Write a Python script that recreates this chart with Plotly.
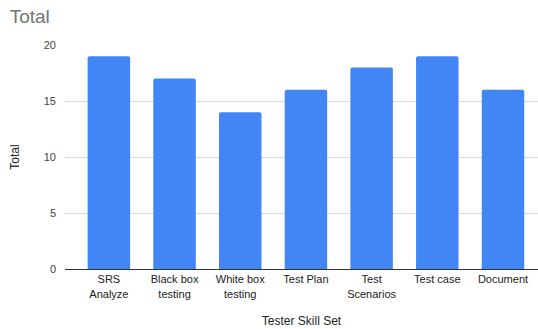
import plotly.graph_objects as go

skills = ["SRS<br>Analyze", "Black box<br>testing", "White box<br>testing", "Test Plan",
          "Test<br>Scenarios", "Test case", "Document"]
totals = [19, 17, 14, 16, 18, 19, 16]

fig = go.Figure(
    go.Bar(
        x=skills,
        y=totals,
        marker=dict(color="#4285F4", line=dict(width=0)),
        hoverinfo="x+y",
    )
)

fig.update_layout(
    width=538,
    height=329,
    paper_bgcolor="white",
    plot_bgcolor="white",
    font=dict(family="Arial, Liberation Sans, sans-serif", size=11, color="#444444"),
    title=dict(text="Total", x=0.018, y=0.95, xanchor="left", yanchor="middle",
               font=dict(size=19, color="#757575")),
    margin=dict(l=65, r=0, t=45, b=60, autoexpand=False),
    bargap=0.353,
    barcornerradius=2,
    showlegend=False,
    xaxis=dict(
        title=dict(text="Tester Skill Set", font=dict(size=12, color="#222222"), standoff=18),
        range=[-0.668, 6.533],
        showline=True, linecolor="#333333", linewidth=1,
        ticks="", tickfont=dict(size=11, color="#222222"),
        automargin=False,
    ),
    yaxis=dict(
        title=dict(text="Total", font=dict(size=12, color="#222222"), standoff=21),
        range=[0, 20], dtick=5,
        gridcolor="#d9d9d9", zeroline=False,
        tickfont=dict(size=11, color="#444444"),
        ticks="", ticklabelstandoff=8,
        automargin=False,
    ),
)

fig.write_html("out.html", config={"displayModeBar": False},
               post_script="document.body.style.margin='0';")
